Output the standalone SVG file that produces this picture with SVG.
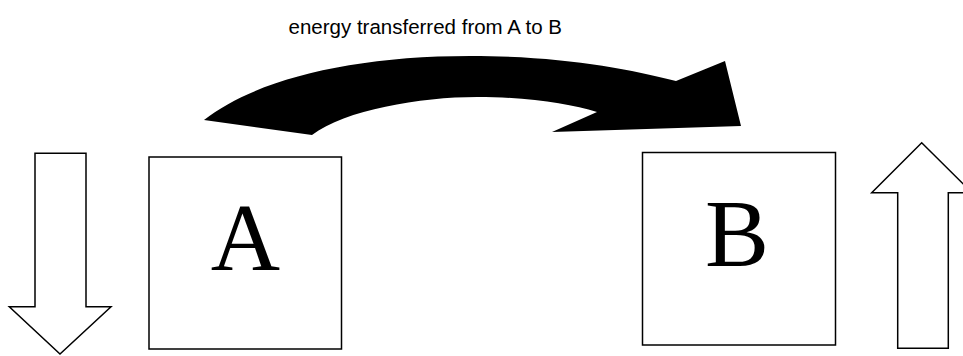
<svg xmlns="http://www.w3.org/2000/svg" width="963" height="356" viewBox="0 0 963 356">
<style>
.box{fill:#fff;stroke:#000;stroke-width:1.5}
.blk{fill:#fff;stroke:#000;stroke-width:1.5;stroke-linejoin:miter}
.big{font-family:"Liberation Serif","Times New Roman",serif;font-size:96px;fill:#000;text-anchor:middle}
.lbl{font-family:"Liberation Sans",Arial,sans-serif;font-size:20.5px;fill:#000}
</style>
<rect width="963" height="356" fill="#fff"/>
<g id="nodeA">
<rect class="box" x="149" y="157" width="192.5" height="192"/>
<text class="big" x="245.5" y="270">A</text>
</g>
<g id="nodeB">
<rect class="box" x="642.5" y="152.5" width="193" height="192.5"/>
<text class="big" x="737" y="266">B</text>
</g>
<g id="connectors">
<path id="transfer" fill="#000" d="M204,120 C255,80 350,56 470,56 C560,56 625,68 676,81 L725,61 L741,126 L552,132 L597,112 C570,104 530,97 477,97 C420,97 345,110 312,135 Z"/>
<path id="downArrow" class="blk" d="M35,153.3 L86,153.3 L86,306.7 L111,306.7 L60,354 L9.3,306.7 L35,306.7 Z"/>
<path id="upArrow" class="blk" d="M897.7,348.3 L948.3,348.3 L948.3,192.7 L972,192.7 L921.7,142.7 L871.7,192.7 L897.7,192.7 Z"/>
</g>
<text class="lbl" x="288.5" y="34">energy transferred from A to B</text>
</svg>
